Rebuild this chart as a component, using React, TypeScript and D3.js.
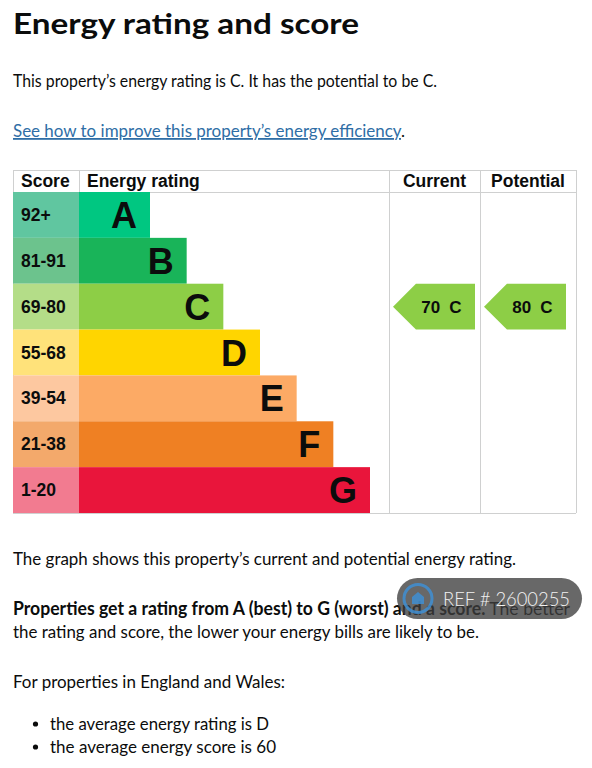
import React from 'react';
import * as d3 from 'd3';

// EPC bands, top (best) to bottom (worst)
const bands = ['A', 'B', 'C', 'D', 'E', 'F', 'G'];
const scoreRanges = ['92+', '81-91', '69-80', '55-68', '39-54', '21-38', '1-20'];
const bandMins = [92, 81, 69, 55, 39, 21, 1];
const barColors = ['#00c781', '#19b459', '#8dce46', '#ffd500', '#fcaa65', '#ef8023', '#e9153b'];
const scoreColors = ['#60c6a0', '#6cc38d', '#b4dd88', '#ffe27a', '#fdc8a0', '#f3a96b', '#f27b90'];

const columnHeaders = ['Score', 'Energy rating', 'Current', 'Potential'];
const ratings = [
    { column: 'Current', score: 70 },
    { column: 'Potential', score: 80 },
];

const averages = ['the average energy rating is D', 'the average energy score is 60'];

const W = 592;
const H = 768;
const bodyFont = 'Lato, "Noto Sans", sans-serif';
const chartFont = '"Liberation Sans", Arial, sans-serif';
const ink = '#0b0c0c';
const grid = '#cfd0d0';
const bodySize = 18;

const bandFor = (score: number) => bands[bandMins.findIndex(m => score >= m)];

const App = () => {
    const top = 170;
    const headerH = 22;
    const bottom = 513;

    const y = d3.scaleBand<string>().domain(bands).range([top + headerH, bottom]);
    const barEnd = d3.scaleLinear().domain([0, bands.length - 1]).range([150, 370]);
    const col = d3.scaleOrdinal<string, [number, number]>()
        .domain(columnHeaders)
        .range([[13, 79], [79, 389], [389, 480], [480, 576]]);

    const rowH = y.bandwidth();

    const arrow = (x0: number, yTop: number) => {
        const p = d3.path();
        p.moveTo(x0, yTop + rowH / 2);
        p.lineTo(x0 + rowH / 2, yTop);
        p.lineTo(x0 + 82, yTop);
        p.lineTo(x0 + 82, yTop + rowH);
        p.lineTo(x0 + rowH / 2, yTop + rowH);
        p.closePath();
        return p.toString();
    };

    return (
        <div style={{ position: 'absolute', left: 0, top: 0 }}>
            <svg width={W} height={H} style={{ display: 'block', background: '#fff' }}>
                {/* heading and intro */}
                <text x={13} y={34} fontFamily={bodyFont} fontWeight={700} fontSize={28.5}
                    fill={ink} textLength={346} lengthAdjust="spacingAndGlyphs">
                    Energy rating and score
                </text>
                <text x={13} y={87} fontFamily={bodyFont} fontSize={bodySize} fill={ink}
                    textLength={424} lengthAdjust="spacingAndGlyphs">
                    This property’s energy rating is C. It has the potential to be C.
                </text>
                <text x={13} y={137} fontFamily={bodyFont} fontSize={bodySize} fill={ink}
                    textLength={392} lengthAdjust="spacingAndGlyphs">
                    <tspan fill="#2f6ea6" textDecoration="underline">See how to improve this property’s energy efficiency</tspan>.
                </text>

                {/* table grid */}
                <g stroke={grid} strokeWidth={1} fill="none" shapeRendering="crispEdges">
                    <line x1={13} x2={576} y1={top} y2={top} />
                    <line x1={13} x2={576} y1={top + headerH} y2={top + headerH} />
                    <line x1={13} x2={576} y1={bottom} y2={bottom} />
                    <line x1={13} x2={13} y1={top} y2={bottom} />
                    <line x1={576} x2={576} y1={top} y2={bottom} />
                    <line x1={79} x2={79} y1={top} y2={top + headerH} />
                    <line x1={389} x2={389} y1={top} y2={bottom} />
                    <line x1={480} x2={480} y1={top} y2={bottom} />
                </g>

                {columnHeaders.map((h, i) => {
                    const [a, b] = col(h);
                    const centred = i >= 2;
                    return (
                        <text key={h} x={centred ? (a + b) / 2 : a + 8} y={top + 17}
                            textAnchor={centred ? 'middle' : 'start'}
                            fontFamily={chartFont} fontWeight={700} fontSize={17.5} fill={ink}>
                            {h}
                        </text>
                    );
                })}

                {/* bands */}
                {bands.map((b, i) => {
                    const y0 = y(b) as number;
                    const [s0, s1] = col('Score');
                    const [r0] = col('Energy rating');
                    return (
                        <g key={b}>
                            <rect x={s0} y={y0} width={s1 - s0} height={rowH} fill={scoreColors[i]} />
                            <rect x={r0} y={y0} width={barEnd(i) - r0} height={rowH} fill={barColors[i]} />
                            <text x={s0 + 8} y={y0 + rowH / 2 + 6} fontFamily={chartFont}
                                fontWeight={700} fontSize={17.5} fill={ink}>
                                {scoreRanges[i]}
                            </text>
                            <text x={barEnd(i) - 13} y={y0 + rowH / 2 + 13} textAnchor="end"
                                fontFamily={chartFont} fontWeight={700} fontSize={36} fill={ink}>
                                {b}
                            </text>
                        </g>
                    );
                })}

                {/* current / potential arrows */}
                {ratings.map(r => {
                    const band = bandFor(r.score);
                    const i = bands.indexOf(band);
                    const y0 = y(band) as number;
                    const [c0] = col(r.column);
                    const x0 = c0 + 4;
                    const cx = x0 + (rowH / 2 + 82) / 2 - 4;
                    return (
                        <g key={r.column}>
                            <path d={arrow(x0, y0)} fill={barColors[i]} />
                            <text x={cx} y={y0 + rowH / 2 + 6} textAnchor="middle"
                                fontFamily={chartFont} fontWeight={700} fontSize={17} fill={ink}>
                                {r.score}<tspan dx={9}>{band}</tspan>
                            </text>
                        </g>
                    );
                })}

                {/* explanatory text */}
                <text x={13} y={565} fontFamily={bodyFont} fontSize={bodySize} fill={ink}
                    textLength={503} lengthAdjust="spacingAndGlyphs">
                    The graph shows this property’s current and potential energy rating.
                </text>
                <text x={13} y={615} fontFamily={bodyFont} fontSize={bodySize} fill={ink}
                    textLength={557} lengthAdjust="spacingAndGlyphs">
                    <tspan fontWeight={700}>Properties get a rating from A (best) to G (worst) and a score.</tspan> The better
                </text>
                <text x={13} y={638} fontFamily={bodyFont} fontSize={bodySize} fill={ink}
                    textLength={466} lengthAdjust="spacingAndGlyphs">
                    the rating and score, the lower your energy bills are likely to be.
                </text>
                <text x={13} y={688} fontFamily={bodyFont} fontSize={bodySize} fill={ink}
                    textLength={272} lengthAdjust="spacingAndGlyphs">
                    For properties in England and Wales:
                </text>
                {averages.map((t, i) => (
                    <g key={t}>
                        <circle cx={35.5} cy={724 + i * 23} r={2.6} fill={ink} />
                        <text x={50} y={730 + i * 23} fontFamily={bodyFont} fontSize={bodySize} fill={ink}
                            textLength={i === 0 ? 219 : 226} lengthAdjust="spacingAndGlyphs">
                            {t}
                        </text>
                    </g>
                ))}

                {/* listing watermark */}
                <g>
                    <rect x={397} y={578} width={185} height={41} rx={20.5} fill="#3e3e3e" opacity={0.78} />
                    <circle cx={418} cy={598.5} r={14} fill="none" stroke="#3f8fd4" strokeWidth={3} opacity={0.85} />
                    <path d="M412,604 L412,597 L418,592 L424,597 L424,604 Z" fill="#3f8fd4" opacity={0.85} />
                    <text x={443} y={606} fontFamily={bodyFont} fontWeight={300} fontSize={19} fill="#f2f2f2"
                        textLength={127} lengthAdjust="spacingAndGlyphs">
                        REF # 2600255
                    </text>
                </g>
            </svg>
        </div>
    );
};

export default App;
